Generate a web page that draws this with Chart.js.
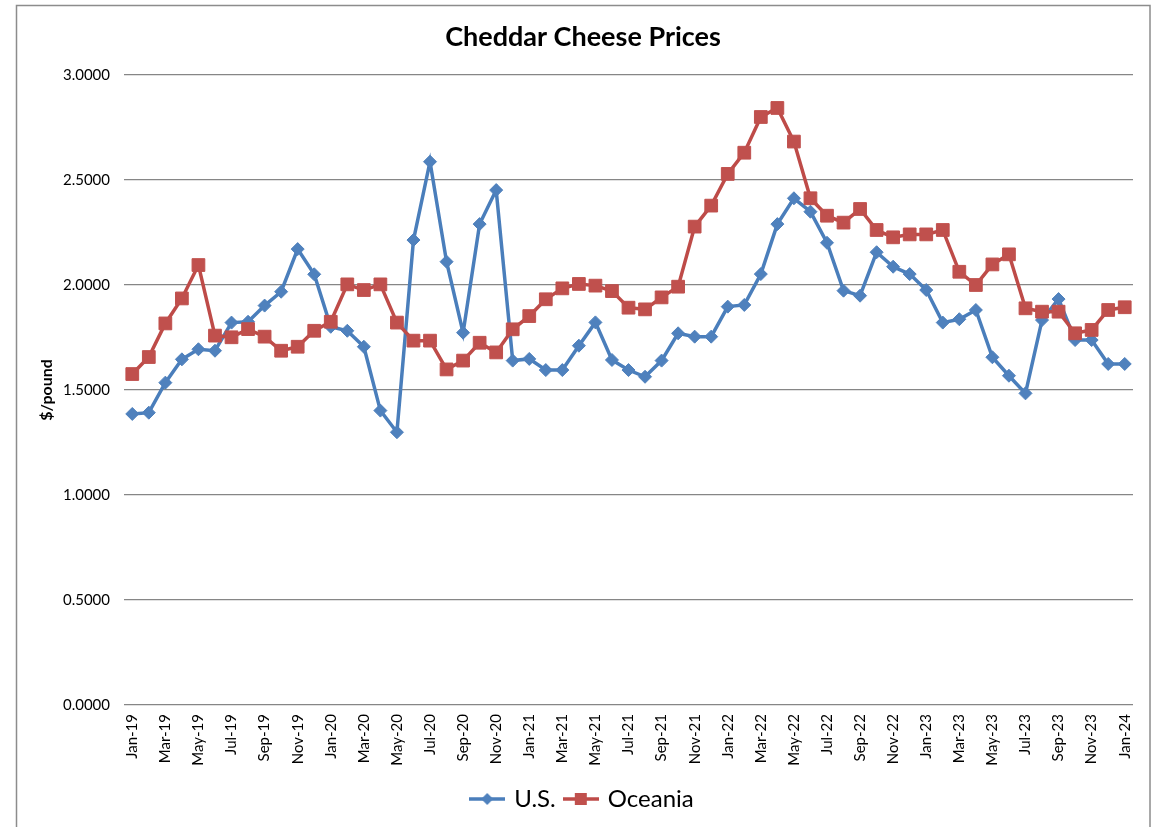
<!DOCTYPE html>
<html>
<head>
<meta charset="utf-8">
<script src="https://cdn.jsdelivr.net/npm/chart.js@4/dist/chart.umd.min.js"></script>
<style>
  html, body { margin: 0; padding: 0; background: #fff; }
  #wrap { width: 1152px; height: 827px; position: relative; }
</style>
</head>
<body>
<div id="wrap"><canvas id="c" width="1152" height="827"></canvas></div>
<script>
const months = [
  'Jan-19','Feb-19','Mar-19','Apr-19','May-19','Jun-19','Jul-19','Aug-19','Sep-19','Oct-19','Nov-19','Dec-19',
  'Jan-20','Feb-20','Mar-20','Apr-20','May-20','Jun-20','Jul-20','Aug-20','Sep-20','Oct-20','Nov-20','Dec-20',
  'Jan-21','Feb-21','Mar-21','Apr-21','May-21','Jun-21','Jul-21','Aug-21','Sep-21','Oct-21','Nov-21','Dec-21',
  'Jan-22','Feb-22','Mar-22','Apr-22','May-22','Jun-22','Jul-22','Aug-22','Sep-22','Oct-22','Nov-22','Dec-22',
  'Jan-23','Feb-23','Mar-23','Apr-23','May-23','Jun-23','Jul-23','Aug-23','Sep-23','Oct-23','Nov-23','Dec-23',
  'Jan-24'
];

const usPrices = [
  1.386, 1.392, 1.535, 1.646, 1.694, 1.687, 1.821, 1.825, 1.902, 1.968, 2.171, 2.051,
  1.801, 1.782, 1.706, 1.402, 1.299, 2.214, 2.587, 2.111, 1.773, 2.290, 2.452, 1.640,
  1.648, 1.595, 1.595, 1.711, 1.822, 1.643, 1.595, 1.563, 1.640, 1.770, 1.754, 1.754,
  1.897, 1.905, 2.052, 2.290, 2.413, 2.349, 2.201, 1.973, 1.949, 2.156, 2.087, 2.052,
  1.976, 1.821, 1.837, 1.881, 1.656, 1.568, 1.484, 1.833, 1.933, 1.738, 1.738, 1.624,
  1.624
];

const oceaniaPrices = [
  1.576, 1.657, 1.817, 1.936, 2.095, 1.759, 1.751, 1.790, 1.754, 1.687, 1.706, 1.782,
  1.825, 2.003, 1.976, 2.003, 1.821, 1.735, 1.735, 1.598, 1.640, 1.725, 1.679, 1.789,
  1.852, 1.932, 1.984, 2.005, 1.997, 1.971, 1.892, 1.884, 1.941, 1.992, 2.278, 2.378,
  2.529, 2.630, 2.800, 2.843, 2.683, 2.413, 2.330, 2.297, 2.362, 2.262, 2.227, 2.241,
  2.241, 2.262, 2.063, 2.000, 2.098, 2.146, 1.889, 1.873, 1.873, 1.770, 1.786, 1.881,
  1.894
];

const seriesNames = ['U.S.', 'Oceania'];
const yTicks = [0, 0.5, 1.0, 1.5, 2.0, 2.5, 3.0];

const FONT = 'Lato, "Open Sans", "DejaVu Sans", sans-serif';
const US_LINE = '#4A7EBB', US_FILL = '#4F81BD';
const OC_LINE = '#BE4B48', OC_FILL = '#C0504D';

function legendIcon(kind, lineColor, fillColor) {
  const cv = document.createElement('canvas');
  cv.width = 36; cv.height = 16;
  const g = cv.getContext('2d');
  g.strokeStyle = lineColor; g.lineWidth = 3.5;
  g.beginPath(); g.moveTo(0, 8); g.lineTo(36, 8); g.stroke();
  g.fillStyle = fillColor;
  if (kind === 'diamond') {
    g.beginPath(); g.moveTo(18, 2); g.lineTo(24, 8); g.lineTo(18, 14); g.lineTo(12, 8); g.closePath(); g.fill();
  } else {
    g.fillRect(12, 2, 12, 12);
  }
  return cv;
}
const icons = [legendIcon('diamond', US_LINE, US_FILL), legendIcon('square', OC_LINE, OC_FILL)];

const framePlugin = {
  id: 'frame',
  beforeDraw(chart) {
    const ctx = chart.ctx;
    ctx.save();
    ctx.fillStyle = '#fff';
    ctx.fillRect(0, 0, chart.width, chart.height);
    ctx.strokeStyle = '#8c8c8c';
    ctx.lineWidth = 1.5;
    ctx.strokeRect(16.5, 5.5, 1133.5, 900);
    ctx.restore();
  }
};

new Chart(document.getElementById('c'), {
  type: 'line',
  data: {
    labels: months,
    datasets: [
      {
        label: seriesNames[0], data: usPrices, order: 1,
        borderColor: US_LINE, backgroundColor: US_FILL, borderWidth: 3.5,
        pointStyle: 'rectRot', pointRadius: 6.5, pointBackgroundColor: US_FILL, pointBorderColor: US_FILL, pointBorderWidth: 1,
        tension: 0, fill: false
      },
      {
        label: seriesNames[1], data: oceaniaPrices, order: 0,
        borderColor: OC_LINE, backgroundColor: OC_FILL, borderWidth: 3.5,
        pointStyle: 'rect', pointRadius: 9, pointBackgroundColor: OC_FILL, pointBorderColor: OC_FILL, pointBorderWidth: 1,
        tension: 0, fill: false
      }
    ]
  },
  options: {
    responsive: false,
    animation: false,
    events: [],
    layout: { padding: { left: 16, right: 2, top: 0, bottom: 6 } },
    plugins: {
      title: {
        display: true, text: 'Cheddar Cheese Prices', color: '#000',
        font: { family: FONT, size: 27, weight: 'bold', lineHeight: 1.2 },
        padding: { top: 21, bottom: 21.6 }
      },
      legend: {
        display: true, position: 'bottom',
        labels: {
          usePointStyle: true, pointStyleWidth: 30, padding: 10, color: '#000',
          font: { family: FONT, size: 24 },
          generateLabels(chart) {
            return chart.data.datasets.map((ds, i) => ({
              text: ds.label, datasetIndex: i, pointStyle: icons[i],
              fillStyle: ds.backgroundColor, strokeStyle: ds.borderColor, lineWidth: 0, hidden: false
            }));
          },
          sort: (a, b) => a.datasetIndex - b.datasetIndex
        }
      },
      tooltip: { enabled: false }
    },
    scales: {
      x: {
        type: 'category', offset: true,
        grid: { display: false, drawTicks: false },
        border: { display: false },
        ticks: {
          autoSkip: false, maxRotation: 90, minRotation: 90, padding: 9, color: '#000',
          font: { family: FONT, size: 15 },
          callback(v, i) { return i % 2 === 0 ? months[i] : ''; }
        },
        afterFit(s) { s.height = 72; }
      },
      y: {
        type: 'linear', position: 'left', min: yTicks[0], max: yTicks[yTicks.length - 1],
        afterBuildTicks(s) { s.ticks = yTicks.map(v => ({ value: v })); },
        grid: { color: '#868686', lineWidth: 1.3, drawTicks: false },
        border: { display: false },
        ticks: {
          padding: 14, color: '#000', font: { family: FONT, size: 15 },
          callback(v) { return Number(v).toFixed(4); }
        },
        title: {
          display: true, text: '$/pound', color: '#000',
          font: { family: FONT, size: 16, weight: 'bold' },
          padding: { top: 21, bottom: 0 }
        },
        afterFit(s) { s.width = 108; }
      },
      yRight: {
        type: 'linear', position: 'right', display: true,
        grid: { display: false, drawTicks: false },
        border: { display: false },
        ticks: { display: false },
        afterFit(s) { s.width = 17; }
      }
    }
  },
  plugins: [framePlugin]
});
</script>
</body>
</html>
